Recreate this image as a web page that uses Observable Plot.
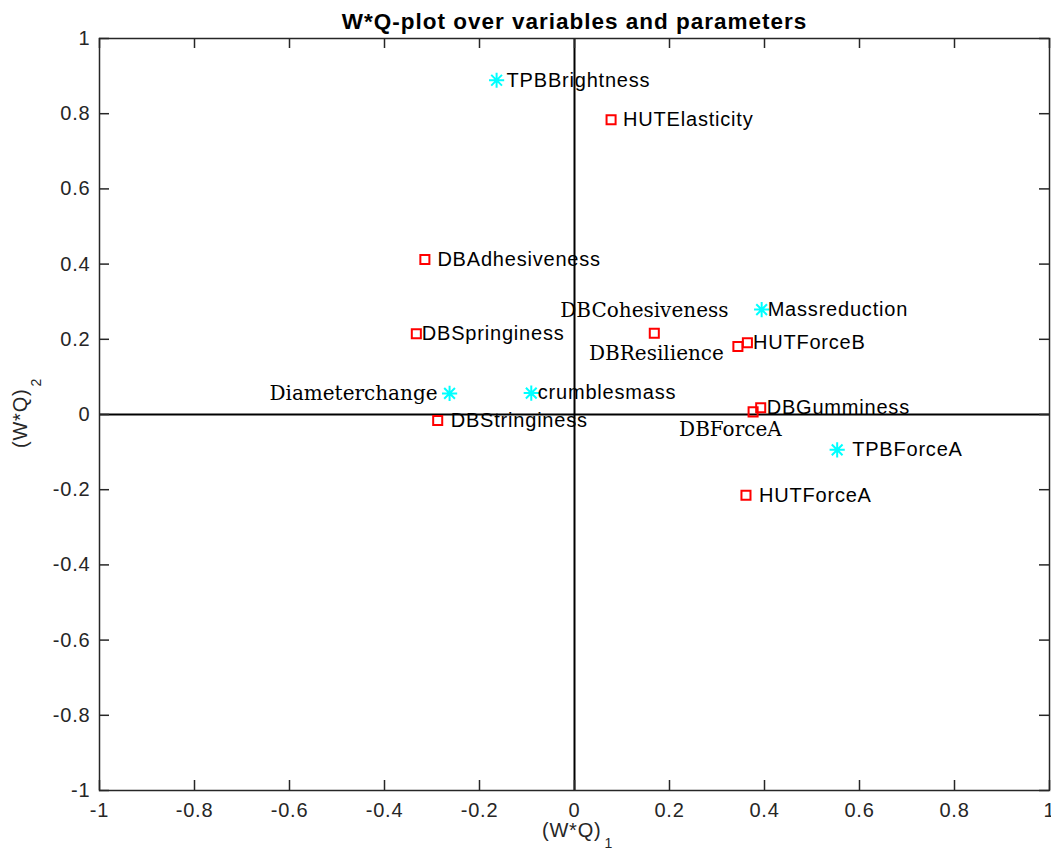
<!DOCTYPE html>
<html><head><meta charset="utf-8">
<script src="https://cdn.jsdelivr.net/npm/d3@7"></script>
<script src="https://cdn.jsdelivr.net/npm/@observablehq/plot@0.6"></script>
<style>body{margin:0;background:#fff}</style>
</head><body><div id="chart"></div>
<script>
// ---- data ----
const names = ["TPBBrightness","HUTElasticity","DBAdhesiveness","DBSpringiness","DBCohesiveness","DBResilience","HUTForceB","Massreduction","DBGumminess","DBForceA","TPBForceA","HUTForceA","Diameterchange","crumblesmass","DBStringiness"];
const wq1 = [-0.164, 0.077, -0.315, -0.333, 0.168, 0.344, 0.364, 0.394, 0.392, 0.376, 0.553, 0.361, -0.263, -0.091, -0.288];
const wq2 = [0.889, 0.784, 0.412, 0.215, 0.216, 0.181, 0.191, 0.279, 0.018, 0.007, -0.094, -0.215, 0.056, 0.057, -0.016];
const kinds = ["variable","parameter","parameter","parameter","parameter","parameter","parameter","variable","parameter","parameter","variable","parameter","variable","variable","parameter"];
const xTicks = [-1,-0.8,-0.6,-0.4,-0.2,0,0.2,0.4,0.6,0.8,1];
const yTicks = [-1,-0.8,-0.6,-0.4,-0.2,0,0.2,0.4,0.6,0.8,1];
const titleText = "W*Q-plot over variables and parameters";
const xLabelMain = "(W*Q)", xLabelSub = "1";
const yLabelMain = "(W*Q)", yLabelSub = "2";

// ---- layout of labels (offsets in px relative to the marker) ----
const labelLayout = {
  TPBBrightness:{dx:10,dy:0,anchor:"start",serif:false},
  HUTElasticity:{dx:12,dy:0,anchor:"start",serif:false},
  DBAdhesiveness:{dx:12.5,dy:0,anchor:"start",serif:false},
  DBSpringiness:{dx:5.5,dy:0,anchor:"start",serif:false},
  DBCohesiveness:{dx:-94,dy:-23,anchor:"start",serif:true},
  DBResilience:{dx:-14,dy:7,anchor:"end",serif:true},
  HUTForceB:{dx:5.5,dy:0,anchor:"start",serif:false},
  Massreduction:{dx:6,dy:0,anchor:"start",serif:false},
  DBGumminess:{dx:6,dy:0,anchor:"start",serif:false},
  DBForceA:{dx:-74,dy:18,anchor:"start",serif:true},
  TPBForceA:{dx:15,dy:0,anchor:"start",serif:false},
  HUTForceA:{dx:13,dy:0,anchor:"start",serif:false},
  Diameterchange:{dx:-12,dy:0,anchor:"end",serif:true},
  crumblesmass:{dx:6.5,dy:0,anchor:"start",serif:false},
  DBStringiness:{dx:13,dy:0,anchor:"start",serif:false}
};

const points = names.map((name, i) => ({name, x: wq1[i], y: wq2[i], kind: kinds[i], ...labelLayout[name]}));

const fmt = d => String(Math.round(d * 10) / 10);
const asterisk = {
  draw(ctx, size) {
    const r = Math.sqrt(size / Math.PI), d = r * Math.SQRT1_2;
    ctx.moveTo(0, -r); ctx.lineTo(0, r);
    ctx.moveTo(-r, 0); ctx.lineTo(r, 0);
    ctx.moveTo(-d, -d); ctx.lineTo(d, d);
    ctx.moveTo(-d, d); ctx.lineTo(d, -d);
  }
};

const W = 1051, H = 850, ML = 99, MR = 2, MT = 38, MB = 60;
const innerW = W - ML - MR, innerH = H - MT - MB;
const axisColor = "#262626";
const sans = "'Liberation Sans', Arial, Helvetica, sans-serif";
const serif = "'DejaVu Serif', serif";

const labelMarks = [];
for (const anchor of ["start","end"]) for (const isSerif of [false,true]) {
  const sub = points.filter(p => p.anchor === anchor && p.serif === isSerif);
  if (!sub.length) continue;
  labelMarks.push(Plot.text(sub, {
    x: "x", y: "y", text: "name", textAnchor: anchor, lineAnchor: "middle",
    fill: "black",
    fontFamily: isSerif ? serif : sans,
    fontSize: 20,
    render(index, scales, values, dims, context, next) {
      const g = next(index, scales, values, dims, context);
      d3.select(g).selectAll("text").each(function(_, j) {
        const p = sub[index[j]];
        const t = d3.select(this);
        const tr = t.attr("transform") || "";
        t.attr("transform", tr + ` translate(${p.dx},${p.dy})`);
        if (isSerif) t.style("letter-spacing", "0px");
      });
      return g;
    }
  }));
}

const chart = Plot.plot({
  width: W, height: H,
  marginLeft: ML, marginRight: MR, marginTop: MT, marginBottom: MB,
  style: {fontFamily: sans, fontSize: "20px", letterSpacing: "0.8px", color: axisColor, background: "#fff"},
  x: {domain: [-1, 1]},
  y: {domain: [-1, 1]},
  marks: [
    // zero lines
    Plot.ruleX([0], {stroke: "black", strokeWidth: 2}),
    Plot.ruleY([0], {stroke: "black", strokeWidth: 2}),
    // inward ticks on all four sides
    Plot.ruleX(xTicks, {x: d => d, insetTop: innerH - 10, stroke: axisColor, strokeWidth: 1.5}),
    Plot.ruleX(xTicks, {x: d => d, insetBottom: innerH - 10, stroke: axisColor, strokeWidth: 1.5}),
    Plot.ruleY(yTicks, {y: d => d, insetRight: innerW - 10, stroke: axisColor, strokeWidth: 1.5}),
    Plot.ruleY(yTicks, {y: d => d, insetLeft: innerW - 10, stroke: axisColor, strokeWidth: 1.5}),
    Plot.axisX({ticks: xTicks, tickFormat: fmt, tickSize: 0, tickPadding: 12, label: null, fill: axisColor}),
    Plot.axisY({ticks: yTicks, tickFormat: fmt, tickSize: 0, tickPadding: 9, label: null, fill: axisColor}),
    Plot.frame({stroke: axisColor, strokeWidth: 1.5}),
    // points
    Plot.dot(points.filter(p => p.kind === "parameter"), {x: "x", y: "y", symbol: "square", r: 5.1, stroke: "#ff0000", strokeWidth: 2, fill: "none"}),
    Plot.dot(points.filter(p => p.kind === "variable"), {x: "x", y: "y", symbol: asterisk, r: 7.6, stroke: "#00ffff", strokeWidth: 2, fill: "none"}),
    ...labelMarks,
    // title
    Plot.text([titleText], {frameAnchor: "top", dy: -17, lineAnchor: "middle", fontWeight: "bold", fontSize: 22.5, fill: "black", render(index, scales, values, dims, context, next) {
      const g = next(index, scales, values, dims, context);
      d3.select(g).selectAll("text").style("letter-spacing", "1px");
      return g;
    }}),
    // x label with subscript
    Plot.text([xLabelMain], {frameAnchor: "bottom", textAnchor: "end", lineAnchor: "middle", dx: 27, dy: 40.5, fill: axisColor}),
    Plot.text([xLabelSub], {frameAnchor: "bottom", textAnchor: "start", lineAnchor: "middle", dx: 30, dy: 53, fontSize: 14, fill: axisColor}),
    // y label with subscript (rotated)
    Plot.text([yLabelMain], {frameAnchor: "left", textAnchor: "end", lineAnchor: "middle", rotate: -90, dx: -79, dy: -26, fill: axisColor}),
    Plot.text([yLabelSub], {frameAnchor: "left", textAnchor: "start", lineAnchor: "middle", rotate: -90, fontSize: 14, dx: -63, dy: -28, fill: axisColor})
  ]
});
document.getElementById("chart").appendChild(chart);
</script>
</body></html>
